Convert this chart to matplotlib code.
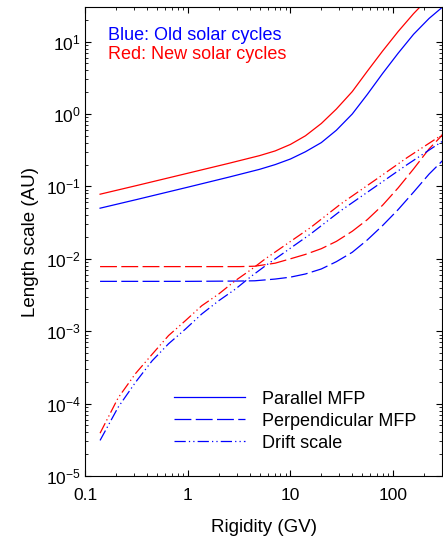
import numpy as np
import matplotlib
matplotlib.use('Agg')
import matplotlib.pyplot as plt
from matplotlib.lines import Line2D
from matplotlib.ticker import NullFormatter

plt.rcParams['font.family'] = ['Liberation Sans', 'DejaVu Sans']
plt.rcParams['mathtext.fontset'] = 'custom'
plt.rcParams['mathtext.rm'] = 'Liberation Sans'

# Rigidity grids (GV)
rig_par = [0.14, 0.32, 1, 2.5, 5, 7.1, 10, 14, 20, 28, 40, 56, 79, 112, 158, 224, 302]
rig_perp = [0.14, 1, 3.2, 4.5, 7.1, 10, 14, 20, 28, 40, 56, 79, 112, 158, 224, 302]
rig_drift = [0.14, 0.21, 0.31, 0.45, 0.65, 0.95, 1.37, 2.0, 2.9, 4.2, 5.7, 15.7, 30.8, 65, 137, 302]

# Parallel mean free path (AU)
par_old = [0.050, 0.066, 0.0975, 0.134, 0.172, 0.200, 0.239, 0.301, 0.403, 0.596, 1.0,
           1.86, 3.63, 6.92, 12.6, 20.9, 29.9]
par_new = [0.078, 0.103, 0.152, 0.208, 0.266, 0.309, 0.38, 0.50, 0.74, 1.17, 2.04,
           3.89, 7.41, 13.8, 24.3, 40.7, 63]

# Perpendicular mean free path (AU)
perp_old = [0.00488, 0.00488, 0.00493, 0.00497, 0.00525, 0.00558, 0.00617, 0.00724, 0.00912,
            0.0123, 0.0182, 0.0288, 0.0479, 0.0832, 0.148, 0.226]
perp_new = [0.0078, 0.0078, 0.0078, 0.0079, 0.0087, 0.0100, 0.0115, 0.0138, 0.0174,
            0.024, 0.0347, 0.055, 0.0955, 0.174, 0.33, 0.513]

# Drift scale (AU)
drift_old = [3.1e-5, 8.9e-5, 1.97e-4, 3.9e-4, 6.7e-4, 1.07e-3, 1.73e-3, 2.63e-3, 3.8e-3,
             5.8e-3, 8.0e-3, 0.022, 0.046, 0.096, 0.20, 0.42]
drift_new = [3.9e-5, 1.2e-4, 2.6e-4, 4.8e-4, 8.7e-4, 1.4e-3, 2.25e-3, 3.26e-3, 4.98e-3,
             7.2e-3, 0.010, 0.027, 0.057, 0.119, 0.25, 0.52]

dash = (13.5, 3.5)
dashdotdot = (9, 2.5, 1, 2.5, 1, 2.5)
lw = 0.9

fig = plt.figure(figsize=(4.43, 5.43), dpi=100)
ax = fig.add_axes([0.192, 0.1234, 0.806, 0.8636])

ax.plot(rig_par, par_old, color='blue', lw=lw)
ax.plot(rig_par, par_new, color='red', lw=lw)
ax.plot(rig_perp, perp_old, color='blue', lw=lw, dashes=dash)
ax.plot(rig_perp, perp_new, color='red', lw=lw, dashes=dash)
ax.plot(rig_drift, drift_old, color='blue', lw=lw, dashes=dashdotdot)
ax.plot(rig_drift, drift_new, color='red', lw=lw, dashes=dashdotdot)

ax.set_xscale('log')
ax.set_yscale('log')
ax.set_xlim(0.1, 300)
ax.set_ylim(1e-5, 30)
ax.set_xticks([0.1, 1, 10, 100])
ax.set_xticklabels(['0.1', '1', '10', '100'])
ax.xaxis.set_minor_formatter(NullFormatter())
ax.yaxis.set_minor_formatter(NullFormatter())

ax.tick_params(which='both', direction='in', top=True, right=True, labelsize=12.5)
ax.tick_params(which='major', length=4.5, width=0.8)
ax.tick_params(which='minor', length=2.5, width=0.6)
ax.tick_params(axis='x', pad=9)
ax.tick_params(axis='y', pad=3)

ax.set_xlabel('Rigidity (GV)', fontsize=13.5, labelpad=11)
ax.set_ylabel('Length scale (AU)', fontsize=13.5, labelpad=5)

ax.text(0.064, 0.940, 'Blue: Old solar cycles', color='blue', fontsize=13,
        transform=ax.transAxes, va='center')
ax.text(0.064, 0.898, 'Red: New solar cycles', color='red', fontsize=13,
        transform=ax.transAxes, va='center')

handles = [Line2D([], [], color='blue', lw=lw),
           Line2D([], [], color='blue', lw=lw, dashes=dash),
           Line2D([], [], color='blue', lw=lw, dashes=dashdotdot)]
ax.legend(handles, ['Parallel MFP', 'Perpendicular MFP', 'Drift scale'],
          loc='upper left', bbox_to_anchor=(0.25, 0.182), frameon=False,
          fontsize=13, handlelength=3.9, handletextpad=0.95, labelspacing=0.28,
          borderaxespad=0, borderpad=0)

plt.savefig('out.png', dpi=100)
